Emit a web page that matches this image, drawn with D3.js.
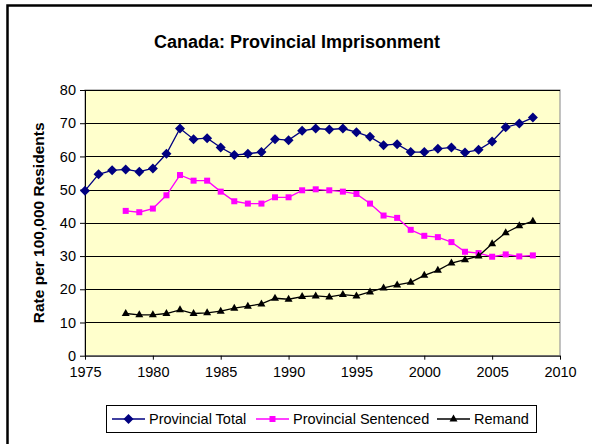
<!DOCTYPE html>
<html>
<head>
<meta charset="utf-8">
<script src="https://cdn.jsdelivr.net/npm/d3@7"></script>
<style>
  body { margin: 0; background: #fff; }
  text { font-family: "Liberation Sans", Arial, sans-serif; }
</style>
</head>
<body>
<script>
// data
var yearsTotal = d3.range(1975, 2009);
var provincialTotal = [49.7, 54.6, 55.8, 56.1, 55.4, 56.4, 60.8, 68.4, 65.2, 65.5,
  62.7, 60.4, 60.8, 61.3, 65.2, 64.9, 67.7, 68.4, 68.1, 68.4,
  67.3, 65.9, 63.4, 63.7, 61.3, 61.3, 62.3, 62.7, 61.2, 62.0,
  64.5, 68.8, 69.9, 71.7];
var yearsOther = d3.range(1978, 2009);
var provincialSentenced = [43.6, 43.2, 44.3, 48.3, 54.4, 52.7, 52.7, 49.4, 46.5, 45.8,
  45.8, 47.7, 47.7, 49.8, 50.1, 49.8, 49.4, 48.7, 45.8, 42.2,
  41.5, 37.9, 36.1, 35.7, 34.2, 31.3, 30.9, 29.8, 30.5, 29.9, 30.2];
var remand = [12.7, 12.3, 12.3, 12.7, 13.8, 12.7, 12.9, 13.4, 14.3, 14.9,
  15.6, 17.3, 17.0, 17.8, 18.0, 17.7, 18.4, 18.0, 19.2, 20.4,
  21.3, 22.1, 24.2, 25.7, 27.9, 28.9, 30.0, 33.7, 37.0, 39.1, 40.5];
var xTicks = [1975, 1980, 1985, 1990, 1995, 2000, 2005, 2010];
var yTicks = [0, 10, 20, 30, 40, 50, 60, 70, 80];

var seriesList = [
  { name: "Provincial Total", years: yearsTotal, values: provincialTotal, color: "#000080", marker: "diamond" },
  { name: "Provincial Sentenced", years: yearsOther, values: provincialSentenced, color: "#FF00FF", marker: "square" },
  { name: "Remand", years: yearsOther, values: remand, color: "#000000", marker: "triangle" }
];

var W = 592, H = 444;
var plot = { left: 85, right: 560, top: 90, bottom: 355.7 };

var svg = d3.select("body").append("svg")
  .attr("width", W)
  .attr("height", H);

// outer chart border (cut off on the right and bottom)
svg.append("path")
  .attr("d", "M7.5,448 L7.5,5.5 L600,5.5")
  .attr("fill", "none")
  .attr("stroke", "#000")
  .attr("stroke-width", 2.5);

var x = d3.scaleLinear().domain([1975, 2010]).range([plot.left, plot.right]);
var y = d3.scaleLinear().domain([0, 80]).range([plot.bottom, plot.top]);

// plot background
svg.append("rect")
  .attr("x", plot.left).attr("y", plot.top)
  .attr("width", plot.right - plot.left)
  .attr("height", plot.bottom - plot.top)
  .attr("fill", "#FFFFCC")
  .attr("stroke", "#999")
  .attr("stroke-width", 1.2);

// gridlines
svg.append("g")
  .selectAll("line")
  .data(yTicks.slice(1))
  .join("line")
  .attr("x1", plot.left).attr("x2", plot.right)
  .attr("y1", d => Math.round(y(d)) + 0.5).attr("y2", d => Math.round(y(d)) + 0.5)
  .attr("stroke", "#000");

// axes
var yAxis = svg.append("g")
  .attr("transform", "translate(" + plot.left + ",0)")
  .call(d3.axisLeft(y).tickValues(yTicks).tickSize(5).tickPadding(4).tickSizeOuter(0));
var xAxis = svg.append("g")
  .attr("transform", "translate(0," + plot.bottom + ")")
  .call(d3.axisBottom(x).tickValues(xTicks).tickFormat(d3.format("d")).tickSize(4).tickPadding(7).tickSizeOuter(0));
[yAxis, xAxis].forEach(function (g) {
  g.selectAll("text").attr("font-size", "14.5px").attr("fill", "#000")
    .attr("font-family", "'Liberation Sans', Arial, sans-serif");
  g.selectAll("line").attr("stroke", "#000");
  g.select(".domain").attr("stroke", "#000");
});

// title
svg.append("text")
  .attr("x", 297).attr("y", 48)
  .attr("text-anchor", "middle")
  .attr("font-size", "18px")
  .attr("font-weight", "bold")
  .text("Canada: Provincial Imprisonment");

// y axis label
svg.append("text")
  .attr("transform", "translate(44," + ((plot.top + plot.bottom) / 2) + ") rotate(-90)")
  .attr("text-anchor", "middle")
  .attr("font-size", "15.5px")
  .attr("font-weight", "bold")
  .text("Rate per 100,000 Residents");

function drawMarker(g, type, color) {
  if (type === "diamond") {
    g.append("path").attr("d", "M0,-5 L5,0 L0,5 L-5,0 Z").attr("fill", color);
  } else if (type === "square") {
    g.append("rect").attr("x", -3).attr("y", -3).attr("width", 6).attr("height", 6).attr("fill", color);
  } else {
    g.append("path").attr("d", "M0,-4.5 L4,2.5 L-4,2.5 Z").attr("fill", color);
  }
}

var line = d3.line()
  .x(d => x(d.year))
  .y(d => y(d.value));

seriesList.forEach(function (s) {
  var pts = s.years.map((yr, i) => ({ year: yr, value: s.values[i] }));
  svg.append("path")
    .datum(pts)
    .attr("d", line)
    .attr("fill", "none")
    .attr("stroke", s.color)
    .attr("stroke-width", 1.3);
  var mg = svg.append("g");
  pts.forEach(function (p) {
    var g = mg.append("g").attr("transform", "translate(" + x(p.year) + "," + y(p.value) + ")");
    drawMarker(g, s.marker, s.color);
  });
});

// legend
var legend = svg.append("g");
legend.append("rect")
  .attr("x", 106.5).attr("y", 405.5)
  .attr("width", 430).attr("height", 27)
  .attr("fill", "#fff")
  .attr("stroke", "#000");
var legendX = [112, 256, 437];
seriesList.forEach(function (s, i) {
  var g = legend.append("g").attr("transform", "translate(" + legendX[i] + ",419)");
  g.append("line").attr("x1", 0).attr("x2", 33).attr("stroke", s.color).attr("stroke-width", 1.3);
  var m = g.append("g").attr("transform", "translate(16.5,0)");
  drawMarker(m, s.marker, s.color);
  g.append("text")
    .attr("x", 37).attr("y", 5)
    .attr("font-size", "14.5px")
    .text(s.name);
});
</script>
</body>
</html>
